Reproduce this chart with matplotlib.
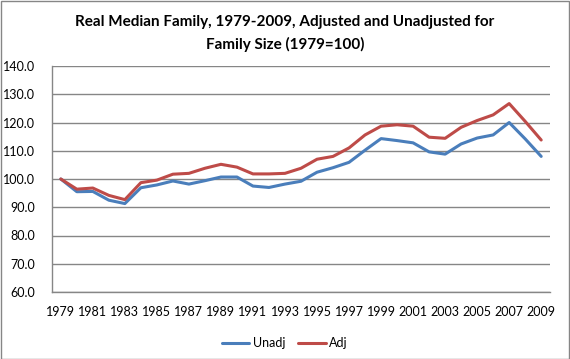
import matplotlib
matplotlib.use('Agg')
import matplotlib.pyplot as plt
from matplotlib.patches import Rectangle

years = list(range(1979, 2010))
unadj = [100.0, 95.5, 95.6, 92.5, 91.3, 96.9, 97.9, 99.3, 98.2, 99.4,
         100.7, 100.7, 97.5, 97.0, 98.2, 99.2, 102.4, 104.0, 105.9, 110.2,
         114.3, 113.6, 112.8, 109.6, 108.8, 112.4, 114.5, 115.6, 120.0, 114.2,
         108.0]
adj = [100.0, 96.4, 96.8, 94.2, 92.7, 98.7, 99.6, 101.7, 102.0, 103.8,
       105.2, 104.2, 101.8, 101.8, 102.0, 103.8, 107.0, 108.0, 111.0, 115.6,
       118.7, 119.2, 118.7, 114.8, 114.4, 118.3, 120.7, 122.7, 126.7, 120.4,
       113.8]
yticks = [60, 70, 80, 90, 100, 110, 120, 130, 140]
xticks = list(range(1979, 2010, 2))

plt.rcParams['font.family'] = ['Lato', 'DejaVu Sans']

fig = plt.figure(figsize=(5.7, 3.59), dpi=100)
ax = fig.add_axes([52 / 570, 1 - 292 / 359, (550 - 52) / 570, (292 - 66) / 359])

ax.plot(years, unadj, color='#4A7EBB', lw=2.2, label='Unadj', solid_capstyle='round')
ax.plot(years, adj, color='#BE4B48', lw=2.2, label='Adj', solid_capstyle='round')

ax.set_ylim(60, 140)
ax.set_xlim(1978.45, 2009.55)
ax.set_yticks(yticks)
ax.set_yticklabels(['%.1f' % v for v in yticks])
ax.set_xticks(xticks)
ax.set_xticklabels([str(v) for v in xticks])
ax.tick_params(length=0, labelsize=9)
ax.tick_params(axis='x', pad=10)
ax.tick_params(axis='y', pad=12)
ax.grid(axis='y', color='#868686', lw=1)
ax.set_axisbelow(True)
for s in ['top', 'right']:
    ax.spines[s].set_visible(False)
for s in ['left', 'bottom']:
    ax.spines[s].set_color('#868686')
    ax.spines[s].set_linewidth(1)

fig.text(0.5, 1 - 22 / 359, 'Real Median Family, 1979-2009, Adjusted and Unadjusted for',
         ha='center', va='center', fontsize=11, fontweight='bold')
fig.text(0.5, 1 - 44 / 359, 'Family Size (1979=100)',
         ha='center', va='center', fontsize=11, fontweight='bold')

fig.legend(loc='center', bbox_to_anchor=(0.5, 1 - 343 / 359), ncol=2, frameon=False,
           fontsize=9, handlelength=2.2, handletextpad=0.3, columnspacing=1.0)

fig.patches.append(Rectangle((0.5 / 570, 0.5 / 359), 1 - 1.5 / 570, 1 - 1.5 / 359,
                             transform=fig.transFigure, fill=False,
                             edgecolor='#868686', lw=1))

fig.savefig('out.png', dpi=100)
